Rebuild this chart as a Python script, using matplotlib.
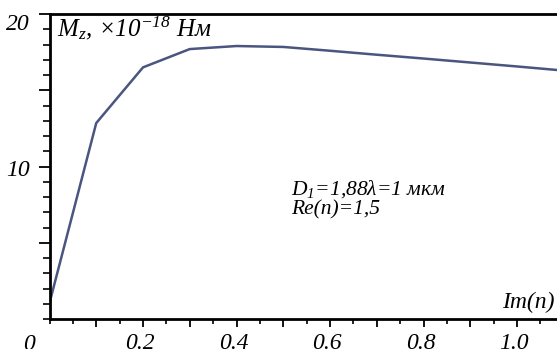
import matplotlib
matplotlib.use("Agg")
import matplotlib.pyplot as plt
from matplotlib.ticker import MultipleLocator
from matplotlib.transforms import ScaledTranslation

plt.rcParams['font.family'] = ['Liberation Serif', 'DejaVu Serif']
plt.rcParams['mathtext.fontset'] = 'custom'
plt.rcParams['mathtext.rm'] = 'Liberation Serif:italic'
plt.rcParams['mathtext.it'] = 'Liberation Serif:italic'

# data
im_n = [0.0, 0.1, 0.2, 0.3, 0.4, 0.5, 0.6, 0.7, 0.8, 0.9, 1.0, 1.1]
mz = [1.05, 12.85, 16.5, 17.7, 17.9, 17.84, 17.59, 17.33, 17.08, 16.82, 16.56, 16.29]
x_tick_vals = [0.1, 0.2, 0.3, 0.4, 0.5, 0.6, 0.7, 0.8, 0.9, 1.0]
x_tick_labels = ["", "0.2", "", "0.4", "", "0.6", "", "0.8", "", "1.0"]
y_tick_vals = [5, 10, 15, 20]
y_tick_labels = ["", "10", "", "20"]

W, H = 557, 349
fig = plt.figure(figsize=(W / 100, H / 100), dpi=100)
left, right, top, bottom = 49.5, 557, 14, 319
ax = fig.add_axes([left / W, (H - bottom) / H, (right - left) / W, (bottom - top) / H])

xmax = (right - left) / 467.5
ax.set_xlim(0, xmax)
ax.set_ylim(0, 20)

ax.plot(im_n, mz, color='#4a5580', lw=1.8, clip_on=True)

for s in ['left', 'bottom', 'top']:
    ax.spines[s].set_linewidth(2.0)
    ax.spines[s].set_color('black')
ax.spines['right'].set_visible(False)

ax.set_xticks(x_tick_vals)
ax.set_xticklabels(x_tick_labels, fontstyle='italic', fontsize=17)
ax.xaxis.set_minor_locator(MultipleLocator(0.05))
ax.set_yticks(y_tick_vals)
ax.set_yticklabels(y_tick_labels, fontstyle='italic', fontsize=17)
ax.yaxis.set_minor_locator(MultipleLocator(1))

ax.tick_params(axis='x', which='major', direction='out', length=6, width=1.3, pad=4)
ax.tick_params(axis='x', which='minor', direction='out', length=3.5, width=1.2)
ax.tick_params(axis='y', which='major', direction='out', length=8, width=1.3, pad=6)
ax.tick_params(axis='y', which='minor', direction='out', length=5, width=1.2)

for lab, val in zip(ax.get_yticklabels(), y_tick_vals):
    dy = -8 if val == 20 else -2
    lab.set_transform(lab.get_transform() + ScaledTranslation(0, dy / 100, fig.dpi_scale_trans))
offx = ScaledTranslation(-3 / 100, 0, fig.dpi_scale_trans)
for lab in ax.get_xticklabels():
    lab.set_transform(lab.get_transform() + offx)

ax.text(29 / W, (H - 345) / H, "0", transform=fig.transFigure, fontsize=17,
        fontstyle='italic', ha='center', va='center')

ax.text(57 / W, (H - 36) / H, r"$M_z$, ×10$^{-18}$ Нм", transform=fig.transFigure,
        fontsize=18, fontstyle='italic', ha='left', va='baseline')

ax.text(291 / W, (H - 195) / H, r"$D_1$=1,88λ=1 мкм", transform=fig.transFigure,
        fontsize=15.5, fontstyle='italic', ha='left', va='baseline')
ax.text(291 / W, (H - 214) / H, "Re(n)=1,5", transform=fig.transFigure,
        fontsize=15.5, fontstyle='italic', ha='left', va='baseline')

ax.text(502 / W, (H - 308) / H, "Im(n)", transform=fig.transFigure,
        fontsize=17, fontstyle='italic', ha='left', va='baseline')

fig.savefig("out.png", dpi=100)
